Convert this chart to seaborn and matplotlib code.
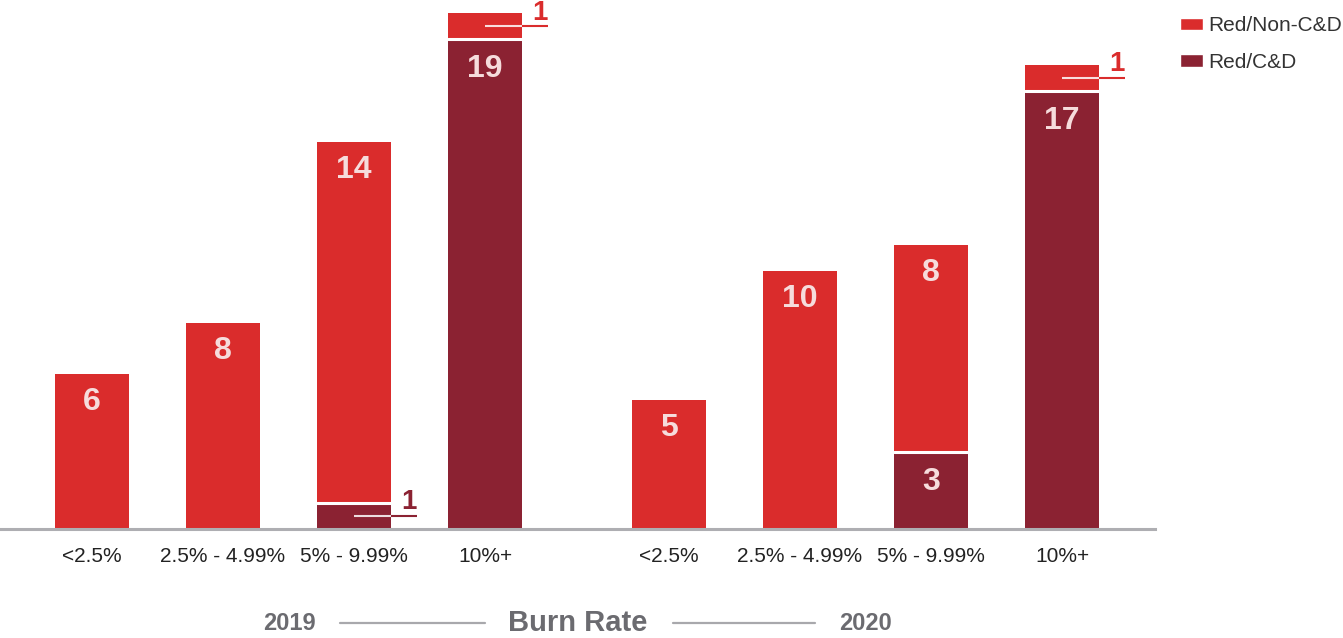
import seaborn as sns
import pandas as pd
import numpy as np
import matplotlib.pyplot as plt
from matplotlib.patches import Patch
from matplotlib.lines import Line2D

# data
categories=['<2.5%','2.5% - 4.99%','5% - 9.99%','10%+']
years=['2019','2020']
non_cd_2019=[6,8,14,1]
cd_2019=[0,0,1,19]
non_cd_2020=[5,10,8,1]
cd_2020=[0,0,3,17]

RED='#DA2C2C'
DARK='#8B2232'
LABEL='#F6DCDC'
GRAY='#6B6B70'

def build_df():
    rows=[]
    for g,(yr,non,cd) in enumerate([('2019',non_cd_2019,cd_2019),('2020',non_cd_2020,cd_2020)]):
        for i,cat in enumerate(categories):
            rows.append({'year':yr,'cat':cat,'non_cd':non[i],'cd':cd[i],'pos':i+4.405*g})
    df=pd.DataFrame(rows)
    df['total']=df['non_cd']+df['cd']
    return df

def leader(ax,x,y,color,bar_w):
    end=x+0.48
    ax.plot([x,end],[y,y],color=color,lw=1.5,solid_capstyle='butt',zorder=4)
    ax.plot([x,x+bar_w/2],[y,y],color='white',lw=1.5,alpha=0.85,solid_capstyle='butt',zorder=5)
    ax.annotate('1',(end,y),xytext=(0,0.5),textcoords='offset points',ha='right',va='bottom'
                ,fontsize=20,fontweight='bold',color=color)

def main():
    sns.set_style('white')
    plt.rcParams['font.family']=['Liberation Sans','DejaVu Sans']
    df=build_df()
    bar_w=0.57

    fig=plt.figure(figsize=(13.43,6.38),dpi=100)
    ax=fig.add_axes([0,109/638,1155/1343,529/638])

    sns.barplot(data=df,x='pos',y='total',native_scale=True,color=RED,saturation=1
                ,width=bar_w,errorbar=None,ax=ax,linewidth=0)
    sns.barplot(data=df,x='pos',y='cd',native_scale=True,color=DARK,saturation=1
                ,width=bar_w,errorbar=None,ax=ax,linewidth=0)

    for _,r in df.iterrows():
        x=r['pos']
        if r['cd']>0 and r['non_cd']>0:
            ax.plot([x-bar_w/2,x+bar_w/2],[r['cd'],r['cd']],color='white',lw=2.2,zorder=3)
        if r['non_cd']>1:
            ax.annotate(str(r['non_cd']),(x,r['total']),xytext=(0,-20),textcoords='offset points'
                        ,ha='center',va='center',fontsize=23,fontweight='bold',color=LABEL)
        elif r['non_cd']==1:
            leader(ax,x,r['total']-0.5,RED,bar_w)
        if r['cd']>1:
            ax.annotate(str(r['cd']),(x,r['cd']),xytext=(0,-21.5),textcoords='offset points'
                        ,ha='center',va='center',fontsize=23,fontweight='bold',color=LABEL)
        elif r['cd']==1:
            leader(ax,x,0.5,DARK,bar_w)

    ax.set_xlim((0-92)/131,(1155-92)/131)
    ax.set_ylim(0,529/25.78)
    ax.set_xticks(df['pos'])
    ax.set_xticklabels(df['cat'],fontsize=15,color='#222222')
    ax.tick_params(axis='x',length=0,pad=13)
    ax.set_yticks([])
    ax.set_xlabel('')
    ax.set_ylabel('')
    for s in ['top','right','left']:
        ax.spines[s].set_visible(False)
    ax.spines['bottom'].set_color('#AEAEB2')
    ax.spines['bottom'].set_linewidth(2.2)

    handles=[Patch(facecolor=RED,label='Red/Non-C&D'),Patch(facecolor=DARK,label='Red/C&D')]
    fig.legend(handles=handles,loc='upper left',bbox_to_anchor=(1172/1343,1-8/638),frameon=False
               ,fontsize=15,handlelength=1.1,handleheight=0.55,handletextpad=0.25
               ,labelspacing=0.85,labelcolor='#333333',borderaxespad=0)

    # bottom caption
    yc=1-623/638
    fig.text(289/1343,yc,'2019',ha='center',va='center',fontsize=17,fontweight='bold',color=GRAY)
    fig.text(578/1343,yc,'Burn Rate',ha='center',va='center',fontsize=21,fontweight='bold',color=GRAY)
    fig.text(865/1343,yc,'2020',ha='center',va='center',fontsize=17,fontweight='bold',color=GRAY)
    for x0,x1 in [(340,485),(673,815)]:
        fig.add_artist(Line2D([x0/1343,x1/1343],[yc,yc],transform=fig.transFigure,color='#A8A8AC',lw=1.6))

    fig.savefig('out.png',dpi=100)

if __name__=='__main__':
    main()
